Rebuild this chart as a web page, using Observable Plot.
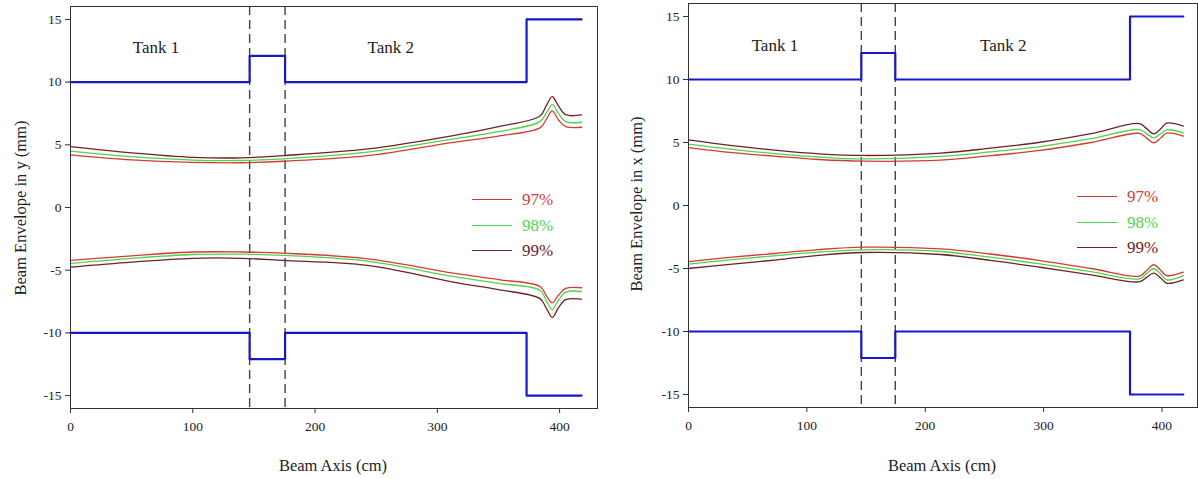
<!DOCTYPE html>
<html><head><meta charset="utf-8">
<script src="https://cdn.jsdelivr.net/npm/d3@7"></script>
<script src="https://cdn.jsdelivr.net/npm/@observablehq/plot@0.6"></script>
<style>
body{margin:0;background:#fff;font-family:"Liberation Serif","Times New Roman",serif;color:#222;}
#wrap{display:flex;width:1198px;height:479px;overflow:hidden;}
.panel{position:relative;width:599px;height:479px;}
.panel svg [aria-label$="tick label"], .panel svg [aria-label$="tick label"] text{font-size:13.5px !important;font-family:"Liberation Serif",serif !important;}
.legend{position:absolute;font-size:17px;line-height:25.5px;}
.legend .row{display:flex;align-items:center;height:25.5px;}
.legend .sw{width:40px;height:0;border-top:1.3px solid;margin-right:10px;}
.axlab{position:absolute;font-size:16.5px;white-space:nowrap;transform:translate(-50%,-50%);}
.axlab.rot{transform:translate(-50%,-50%) rotate(-90deg);}
</style></head><body>
<div id="wrap"><div class="panel" id="left"></div><div class="panel" id="right"></div></div>
<script>
// ---- data ----
const seriesNames = ["97%", "98%", "99%"];
const seriesColors = ["#d43a36", "#4ed44e", "#6e2226"];
const xTicks = [0, 100, 200, 300, 400];
const yTicks = [-15, -10, -5, 0, 5, 10, 15];
const xLabel = "Beam Axis (cm)";

// Left panel: envelope in y
const leftYLabel = "Beam Envelope in y (mm)";
const leftX = [0, 50, 100, 140, 174, 243, 313, 350, 384, 389, 394, 399, 405, 418];
const leftUpper97 = [4.2, 3.8, 3.6, 3.57, 3.69, 4.14, 5.2, 5.7, 6.35, 7.0, 7.7, 7.0, 6.45, 6.4];
const leftUpper98 = [4.5, 4.05, 3.78, 3.75, 3.88, 4.41, 5.47, 6.05, 6.85, 7.5, 8.2, 7.5, 6.85, 6.8];
const leftUpper99 = [4.85, 4.35, 4.0, 3.96, 4.14, 4.67, 5.74, 6.45, 7.3, 8.1, 8.85, 8.1, 7.4, 7.38];
const leftLower97 = [-4.22, -3.85, -3.55, -3.55, -3.64, -4.09, -5.23, -5.75, -6.3, -7.0, -7.6, -7.0, -6.45, -6.4];
const leftLower98 = [-4.45, -4.05, -3.75, -3.72, -3.82, -4.28, -5.5, -6.05, -6.6, -7.4, -8.15, -7.4, -6.75, -6.7];
const leftLower99 = [-4.75, -4.35, -4.05, -4.05, -4.22, -4.62, -5.95, -6.55, -7.27, -8.0, -8.77, -8.0, -7.35, -7.3];
const leftApertureX = [0, 146.5, 146.5, 175.5, 175.5, 373, 373, 418];
const leftApertureY = [10, 10, 12.1, 12.1, 10, 10, 15, 15];
const leftTankEdges = [146.5, 175.5];
const leftTankLabels = ["Tank 1", "Tank 2"];
const leftTankLabelX = [70, 262];
const leftTankLabelY = [12.75, 12.75];

// Right panel: envelope in x
const rightYLabel = "Beam Envelope in x (mm)";
const rightX = [0, 37, 75, 110, 148, 213, 255, 297, 340, 381, 387, 393, 399, 404, 418];
const rightUpper97 = [4.6, 4.2, 3.89, 3.65, 3.52, 3.6, 3.95, 4.37, 5.0, 5.72, 5.35, 4.98, 5.35, 5.74, 5.5];
const rightUpper98 = [4.87, 4.45, 4.1, 3.85, 3.7, 3.9, 4.25, 4.68, 5.3, 6.02, 5.7, 5.37, 5.7, 6.0, 5.77];
const rightUpper99 = [5.2, 4.75, 4.37, 4.1, 3.97, 4.15, 4.55, 5.02, 5.7, 6.5, 6.1, 5.69, 6.1, 6.53, 6.3];
const rightLower97 = [-4.45, -4.1, -3.79, -3.5, -3.31, -3.44, -3.85, -4.37, -5.0, -5.6, -5.15, -4.7, -5.15, -5.56, -5.29];
const rightLower98 = [-4.65, -4.3, -3.97, -3.7, -3.52, -3.65, -4.1, -4.63, -5.25, -5.82, -5.4, -5.0, -5.45, -5.9, -5.56];
const rightLower99 = [-5.0, -4.65, -4.31, -3.95, -3.73, -3.89, -4.35, -4.9, -5.5, -6.05, -5.7, -5.37, -5.75, -6.17, -5.9];
const rightApertureX = [0, 146, 146, 174.7, 174.7, 373, 373, 418];
const rightApertureY = [10, 10, 12.1, 12.1, 10, 10, 15, 15];
const rightTankEdges = [146, 174.7];
const rightTankLabels = ["Tank 1", "Tank 2"];
const rightTankLabelX = [73, 266];
const rightTankLabelY = [12.7, 12.7];

function buildRows(xs, upper, lower) {
  const rows = [];
  seriesNames.forEach((s, i) => {
    xs.forEach((x, j) => rows.push({series: s, part: "up", x, y: upper[i][j]}));
    xs.forEach((x, j) => rows.push({series: s, part: "lo", x, y: lower[i][j]}));
  });
  return rows;
}

function panel(opts) {
  const rows = buildRows(opts.xs, opts.upper, opts.lower);
  const ap = opts.apX.map((x, i) => ({x, y: opts.apY[i]}));
  const apLo = opts.apX.map((x, i) => ({x, y: -opts.apY[i]}));
  const labels = opts.tankLabels.map((t, i) => ({t, x: opts.tankX[i], y: opts.tankY[i]}));
  return Plot.plot({
    width: 599, height: 479,
    marginLeft: opts.ml, marginRight: opts.mr, marginTop: opts.mt, marginBottom: opts.mb,
    style: {fontFamily: '"Liberation Serif", serif', fontSize: "14px", color: "#222", background: "#fff"},
    x: {domain: [0, opts.xmax]},
    y: {domain: [-16.03, 16.03]},
    color: {domain: seriesNames, range: seriesColors},
    marks: [
      Plot.axisX(xTicks, {tickSize: 5, tickPadding: 8, tickFormat: d => String(d), fontSize: 13.5, label: null, stroke: "#333"}),
      Plot.axisY(yTicks, {tickSize: 5, tickPadding: 4, tickFormat: d => String(d), fontSize: 13.5, label: null, stroke: "#333"}),
      Plot.ruleX(opts.edges, {stroke: "#444", strokeWidth: 1.4, strokeDasharray: "9,5"}),
      Plot.line(ap, {x: "x", y: "y", stroke: "#1818c8", strokeWidth: 2.2}),
      Plot.line(apLo, {x: "x", y: "y", stroke: "#1818c8", strokeWidth: 2.2}),
      Plot.line(rows, {x: "x", y: "y", z: d => d.series + d.part, stroke: "series", strokeWidth: 1.3, curve: "catmull-rom"}),
      Plot.text(labels, {x: "x", y: "y", text: "t", fontSize: 17, fill: "#222"}),
      Plot.frame({stroke: "#333", strokeWidth: 1})
    ]
  });
}

function legend(container, left, top) {
  const div = document.createElement("div");
  div.className = "legend";
  div.style.left = left + "px";
  div.style.top = top + "px";
  seriesNames.forEach((s, i) => {
    const r = document.createElement("div");
    r.className = "row";
    const sw = document.createElement("div");
    sw.className = "sw";
    sw.style.borderTopColor = seriesColors[i];
    const t = document.createElement("span");
    t.textContent = s;
    t.style.color = seriesColors[i];
    r.appendChild(sw); r.appendChild(t);
    div.appendChild(r);
  });
  container.appendChild(div);
}

function axisLabel(container, text, x, y, rotate) {
  const d = document.createElement("div");
  d.className = "axlab" + (rotate ? " rot" : "");
  d.textContent = text;
  d.style.left = x + "px";
  d.style.top = y + "px";
  container.appendChild(d);
}

const L = document.getElementById("left");
L.appendChild(panel({xs: leftX, upper: [leftUpper97, leftUpper98, leftUpper99], lower: [leftLower97, leftLower98, leftLower99],
  apX: leftApertureX, apY: leftApertureY, edges: leftTankEdges, tankLabels: leftTankLabels, tankX: leftTankLabelX, tankY: leftTankLabelY,
  xmax: 431, ml: 70, mr: 2, mt: 6, mb: 71}));
legend(L, 472, 187);
axisLabel(L, xLabel, 333, 466, false);
axisLabel(L, leftYLabel, 21, 208, true);

const R = document.getElementById("right");
R.appendChild(panel({xs: rightX, upper: [rightUpper97, rightUpper98, rightUpper99], lower: [rightLower97, rightLower98, rightLower99],
  apX: rightApertureX, apY: rightApertureY, edges: rightTankEdges, tankLabels: rightTankLabels, tankX: rightTankLabelX, tankY: rightTankLabelY,
  xmax: 430, ml: 89, mr: 1, mt: 3, mb: 72}));
legend(R, 478, 184);
axisLabel(R, xLabel, 343, 466, false);
axisLabel(R, rightYLabel, 38, 204, true);
</script>
</body></html>
